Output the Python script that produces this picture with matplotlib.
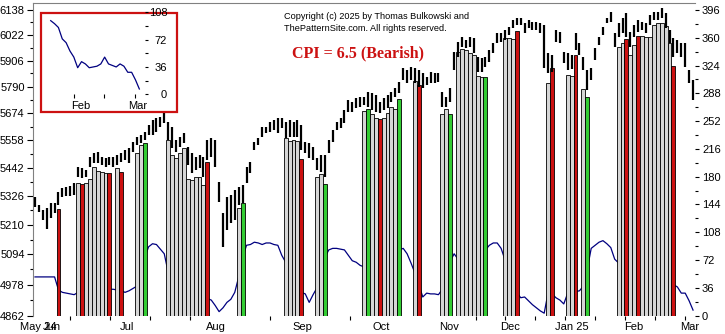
import matplotlib
matplotlib.use('Agg')
import matplotlib.pyplot as plt
from matplotlib.patches import Rectangle
from matplotlib.ticker import FixedLocator, FixedFormatter, NullFormatter

plt.rcParams['font.family'] = ['Liberation Sans', 'DejaVu Sans']

# daily price bars (high / low), one entry per trading session
HIGH = [5322, 5290, 5269, 5277, 5298, 5298, 5342, 5358, 5362, 5366,
        5379, 5445, 5441, 5433, 5487, 5503, 5508, 5487, 5482, 5487,
        5487, 5495, 5503, 5516, 5525, 5550, 5572, 5580, 5593, 5623,
        5644, 5653, 5657, 5674, 5635, 5614, 5559, 5572, 5588, 5529,
        5503, 5487, 5495, 5487, 5559, 5567, 5559, 5383, 5257, 5322,
        5330, 5350, 5362, 5370, 5445, 5466, 5550, 5567, 5614, 5614,
        5635, 5644, 5653, 5653, 5635, 5644, 5635, 5644, 5623, 5550,
        5546, 5529, 5482, 5495, 5495, 5559, 5601, 5635, 5653, 5687,
        5731, 5722, 5740, 5744, 5744, 5766, 5762, 5753, 5722, 5740,
        5753, 5766, 5784, 5810, 5873, 5864, 5877, 5873, 5864, 5850,
        5833, 5855, 5850, 5850, 5766, 5744, 5784, 5944, 5990, 6013,
        5999, 6013, 6008, 5921, 5917, 5921, 5953, 5985, 6031, 6031,
        6045, 6059, 6091, 6100, 6100, 6077, 6091, 6082, 6082, 6077,
        6068, 5939, 5930, 6045, 6036, 5944, 5939, 5930, 6031, 5985,
        5921, 5864, 5873, 5962, 6013, 6059, 6100, 6128, 6031, 6077,
        6100, 6124, 6036, 6068, 6091, 6082, 6077, 6114, 6128, 6128,
        6147, 6124, 6045, 6008, 5999, 5985, 5985, 5864, 5819]
LOW = [5281, 5261, 5229, 5194, 5237, 5257, 5290, 5322, 5326, 5326,
       5330, 5404, 5400, 5404, 5445, 5462, 5462, 5454, 5445, 5454,
       5445, 5454, 5466, 5474, 5462, 5508, 5538, 5546, 5559, 5580,
       5580, 5593, 5614, 5631, 5559, 5525, 5508, 5529, 5546, 5454,
       5420, 5433, 5441, 5404, 5474, 5487, 5445, 5302, 5123, 5190,
       5217, 5229, 5290, 5298, 5379, 5420, 5516, 5538, 5572, 5588,
       5593, 5601, 5588, 5610, 5567, 5572, 5572, 5572, 5516, 5503,
       5482, 5474, 5433, 5424, 5404, 5503, 5550, 5601, 5610, 5631,
       5678, 5678, 5696, 5700, 5709, 5700, 5687, 5678, 5674, 5687,
       5696, 5722, 5744, 5762, 5819, 5806, 5819, 5806, 5788, 5784,
       5797, 5806, 5806, 5810, 5700, 5700, 5722, 5864, 5921, 5967,
       5962, 5967, 5939, 5855, 5855, 5877, 5899, 5939, 5985, 5990,
       5999, 6022, 6054, 6068, 6068, 6031, 6054, 6045, 6045, 6031,
       5873, 5850, 5855, 5990, 5985, 5895, 5864, 5868, 5953, 5930,
       5864, 5775, 5819, 5908, 5976, 6022, 6077, 6082, 5967, 6013,
       6031, 6013, 5967, 6013, 6036, 6045, 6031, 6068, 6091, 6091,
       6100, 6054, 5985, 5921, 5939, 5921, 5877, 5806, 5731]

# CPI reading for every session (right-hand scale)
CPI = [50, 50, 50, 50, 50, 50, 33, 30, 29, 28,
       27, 30, 32, 33, 33, 34, 34, 33, 33, 34,
       34, 33, 32, 30, 32, 35, 38, 50, 75, 89,
       93, 92, 86, 80, 56, 52, 48, 46, 44, 40,
       36, 32, 28, 24, 22, 20, 13, 5, 10, 17,
       21, 30, 50, 75, 91, 92, 95, 94, 92, 94,
       94, 92, 91, 78, 69, 55, 45, 35, 30, 28,
       17, 27, 36, 55, 75, 85, 87, 87, 86, 85,
       78, 71, 69, 65, 63, 60, 55, 50, 45, 45,
       55, 65, 75, 85, 87, 80, 68, 55, 40, 24,
       29, 28, 28, 27, 34, 50, 70, 80, 73, 72,
       70, 68, 66, 64, 70, 85, 91, 94, 94, 87,
       72, 55, 40, 30, 23, 24, 19, 14, 10, 6,
       3, 30, 28, 23, 20, 15, 29, 30, 31, 32,
       38, 60, 87, 91, 95, 97, 93, 88, 73, 68,
       57, 49, 35, 43, 40, 35, 36, 37, 40, 49,
       40, 38, 36, 40, 37, 29, 29, 19, 7]

# signal columns: session index, height on the price scale, kind
COL_IDX = [6, 11, 12, 13, 14, 15, 16, 17, 18, 19, 21, 22, 26, 27, 28,
           34, 35, 36, 37, 38, 39, 40, 41, 42, 43, 44, 52, 53,
           64, 65, 66, 67, 68, 72, 73, 74,
           84, 85, 86, 87, 88, 89, 90, 91, 92, 93, 97, 98,
           104, 105, 106, 108, 109, 110, 111, 112, 113, 114, 115,
           120, 121, 122, 123, 131, 132, 136, 137, 138, 140, 141,
           149, 150, 151, 152, 153, 154, 155, 156, 157, 158, 159, 160,
           161, 162, 163]
COL_TOP = [5273, 5381, 5374, 5378, 5394, 5444, 5429, 5425, 5419, 5419,
           5440, 5426, 5502, 5537, 5544,
           5559, 5495, 5481, 5502, 5523, 5394, 5391, 5402, 5405, 5373,
           5467, 5276, 5296,
           5566, 5555, 5559, 5555, 5477, 5405, 5415, 5377,
           5683, 5691, 5672, 5651, 5647, 5651, 5675, 5701, 5690, 5735,
           5815, 5797,
           5672, 5691, 5668, 5945, 5956, 5953, 5938, 5930, 5837, 5831,
           5831,
           6007, 6010, 6003, 6041, 5804, 5871, 5842, 5837, 5930, 5778,
           5745,
           5968, 5987, 6003, 5930, 5976, 6017, 6017, 6014, 6011, 6068,
           6079, 6076, 6063, 5984, 5882]
COL_KIND = ('rgrggggggrgrggG'
            'ggggggggggrgG'
            'ggggrggG'
            'gGggrggggGgr'
            'ggGgggggggG'
            'gggrgrggrgG'
            'ggrggrggggggggr')

PRICE_TICKS = [4862, 4978, 5094, 5210, 5326, 5442, 5558, 5674, 5790,
               5906, 6022, 6138]
CPI_TICKS = list(range(0, 397, 36))
MONTHS = ['May 24', 'Jun', 'Jul', 'Aug', 'Sep', 'Oct', 'Nov', 'Dec',
          'Jan 25', 'Feb', 'Mar']

KIND_COLOR = {'g': '#d6d6d6', 'r': '#cc1111', 'G': '#33cc33'}

W, H = 725, 334


def px_box(x0, y0, x1, y1):
    return [x0 / W, 1 - y1 / H, (x1 - x0) / W, (y1 - y0) / H]


fig = plt.figure(figsize=(W / 100, H / 100), dpi=100)

# base axes carries the CPI line and the right-hand scale
ax = fig.add_axes(px_box(33, 3, 695, 315.5))
n = len(HIGH)
xs = list(range(n))
ax.plot(xs, CPI, color='#000080', lw=0.9, zorder=1)
ax.set_xlim(-0.51, 168.5)
ax.set_ylim(0, 405)
for s in ax.spines.values():
    s.set_visible(False)

# price axis on top, log scaled, ticks on the left
ax2 = ax.twinx()
ax2.set_yscale('log')
ax2.set_ylim(4862, 6171)
ax2.set_xlim(-0.51, 168.5)
ax.yaxis.tick_right()
ax2.yaxis.tick_left()

ax2.bar(COL_IDX, [t - 4700 for t in COL_TOP], bottom=4700, width=1.0,
        color=[KIND_COLOR[k] for k in COL_KIND], edgecolor='black',
        linewidth=0.6, zorder=2)
ax2.vlines(xs, LOW, HIGH, color='black', lw=1.6, zorder=3)

for s in ['right', 'bottom']:
    ax2.spines[s].set_visible(False)
for s in ['left', 'top']:
    ax2.spines[s].set_color('#808080')
    ax2.spines[s].set_linewidth(0.8)

ax2.yaxis.set_major_locator(FixedLocator(PRICE_TICKS))
ax2.yaxis.set_major_formatter(FixedFormatter([str(v) for v in PRICE_TICKS]))
ax2.yaxis.set_minor_locator(FixedLocator([v + 58 for v in PRICE_TICKS[:-1]]))
ax2.yaxis.set_minor_formatter(NullFormatter())
ax2.tick_params(axis='y', which='major', length=4, width=0.8, pad=2,
                labelsize=8)
ax2.tick_params(axis='y', which='minor', length=2, width=0.8)

ax.yaxis.set_major_locator(FixedLocator(CPI_TICKS))
ax.yaxis.set_minor_locator(FixedLocator([v + 18 for v in CPI_TICKS[:-1]]))
ax.tick_params(axis='y', which='major', length=3, width=0.8, pad=2,
               labelsize=8)
ax.tick_params(axis='y', which='minor', length=2, width=0.8)

month_pos = [0.8, 4.3, 23.6, 46.2, 68.4, 88.3, 105.7, 121.3, 137.1,
             152.9, 167.2]
tick_pos = [8.9, 19.2, 29.4, 39.6, 60.0, 80.4, 112.6, 120.0, 127.7,
            135.3, 143.0, 150.6, 158.3, 165.9]
ax.xaxis.set_major_locator(FixedLocator(month_pos))
ax.xaxis.set_major_formatter(FixedFormatter(MONTHS))
ax.xaxis.set_minor_locator(FixedLocator(tick_pos))
ax.tick_params(axis='x', which='major', length=0, pad=5, labelsize=8)
ax.tick_params(axis='x', which='minor', length=3, width=0.8)

# framed close-up of the recent CPI readings
fig.patches.append(Rectangle((40.7 / W, 1 - 112 / H), 136.6 / W, 99.3 / H,
                             transform=fig.transFigure, facecolor='white',
                             edgecolor='#cc1111', lw=1.6, zorder=1))
ins = fig.add_axes(px_box(44, 12, 145, 94.3))
ins.set_zorder(2)
ins.patch.set_visible(False)
ins.plot(xs[145:], CPI[145:], color='#000080', lw=0.9)
ins.set_xlim(143.26, 169.47)
ins.set_ylim(0, 108.4)
for s in ins.spines.values():
    s.set_visible(False)
ins.yaxis.tick_right()
ins.yaxis.set_major_locator(FixedLocator([0, 36, 72, 108]))
ins.yaxis.set_minor_locator(FixedLocator([18, 54, 90]))
ins.tick_params(axis='y', which='major', length=2, width=0.8, pad=14,
                labelsize=8)
ins.tick_params(axis='y', which='minor', length=2, width=0.8)
for t in ins.get_yticklabels():
    t.set_horizontalalignment('right')
ins.xaxis.set_major_locator(FixedLocator([152.9, 167.7]))
ins.xaxis.set_major_formatter(FixedFormatter(['Feb', 'Mar']))
ins.xaxis.set_minor_locator(FixedLocator([151.05, 158.8, 166.9]))
ins.tick_params(axis='x', which='major', length=0, pad=5, labelsize=8)
ins.tick_params(axis='x', which='minor', length=3, width=0.8)

fig.text(284 / W, 1 - 12 / H, 'Copyright (c) 2025 by Thomas Bulkowski and',
         fontsize=6.6, va='top', ha='left')
fig.text(284 / W, 1 - 24 / H, 'ThePatternSite.com. All rights reserved.',
         fontsize=6.6, va='top', ha='left')
fig.text(292 / W, 1 - 45 / H, 'CPI = 6.5 (Bearish)', color='#cc1111',
         family='Liberation Serif', fontweight='bold', fontsize=11.5,
         va='top', ha='left')

fig.savefig('out.png', dpi=100)
